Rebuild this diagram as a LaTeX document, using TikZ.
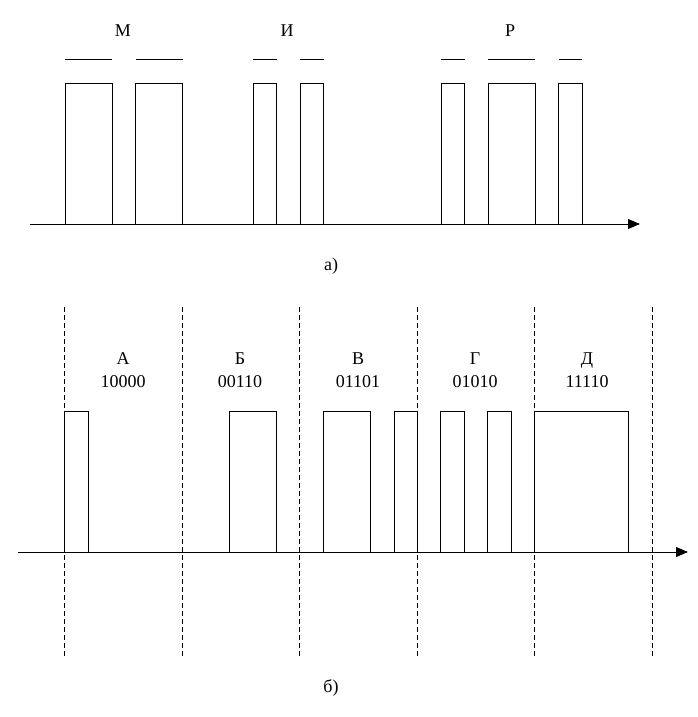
\documentclass[tikz,border=0pt]{standalone}
\usepackage{fontspec}
\setmainfont{Liberation Serif}
\usetikzlibrary{positioning,arrows.meta}
\tikzset{
signal/.style={
    x=1pt,
    y=-1pt,
    line width=1pt,
    font=\fontsize{18}{20}\selectfont
},
pulse/.style={
    draw,
    anchor=south west,
    inner sep=0pt,
    outer sep=0pt,
    minimum height=141pt,
    minimum width=23.5pt
},
longpulse/.style={
    pulse,
    minimum width=47pt
},
widepulse/.style={
    pulse,
    minimum width=94pt
},
axis/.style={
    -{Triangle[length=12pt,width=10pt]}
},
slot/.style={
    dash pattern=on 5pt off 3pt
},
caption/.style={
    inner sep=0pt,
    text height=12.5pt,
    text depth=0pt
}}

\begin{document}
\begin{tikzpicture}[signal]
\useasboundingbox (0,0) rectangle (698,717);

% a) Morse
\coordinate (ta0) at (30,224);
\coordinate (ta1) at (640,224);

\node    (m1)  [longpulse]  at (65,224)    {};
\node    (m2)  [longpulse]  at (135.5,224) {};
\node    (i1)  [pulse]      at (253,224)   {};
\node    (i2)  [pulse]      at (300,224)   {};
\node    (r1)  [pulse]      at (441,224)   {};
\node    (r2)  [longpulse]  at (488,224)   {};
\node    (r3)  [pulse]      at (558.5,224) {};

\node    (lm)  [caption]  at (123,30)  {М};
\node    (li)  [caption]  at (287,30)  {И};
\node    (lr)  [caption]  at (510,30)  {Р};
\node    (capa) [caption] at (331,264) {а)};

\draw    ([yshift=23pt]m1.north west) -- ([yshift=23pt]m1.north east);
\draw    ([yshift=23pt]m2.north west) -- ([yshift=23pt]m2.north east);
\draw    ([yshift=23pt]i1.north west) -- ([yshift=23pt]i1.north east);
\draw    ([yshift=23pt]i2.north west) -- ([yshift=23pt]i2.north east);
\draw    ([yshift=23pt]r1.north west) -- ([yshift=23pt]r1.north east);
\draw    ([yshift=23pt]r2.north west) -- ([yshift=23pt]r2.north east);
\draw    ([yshift=23pt]r3.north west) -- ([yshift=23pt]r3.north east);

\draw[axis]    (ta0) -- (ta1);

% b) five-unit code
\coordinate (tb0) at (18,552);
\coordinate (tb1) at (688,552);

\coordinate (s0t) at (64.5,307);  \coordinate (s0b) at (64.5,657);
\coordinate (s1t) at (182,307);   \coordinate (s1b) at (182,657);
\coordinate (s2t) at (299.5,307); \coordinate (s2b) at (299.5,657);
\coordinate (s3t) at (417,307);   \coordinate (s3b) at (417,657);
\coordinate (s4t) at (534.5,307); \coordinate (s4b) at (534.5,657);
\coordinate (s5t) at (652,307);   \coordinate (s5b) at (652,657);

\node    (a1)  [pulse]      at (64.5,552)  {};
\node    (b1)  [longpulse]  at (229.5,552) {};
\node    (v1)  [longpulse]  at (323,552)   {};
\node    (v2)  [pulse]      at (394,552)   {};
\node    (g1)  [pulse]      at (440.5,552) {};
\node    (g2)  [pulse]      at (487.5,552) {};
\node    (d1)  [widepulse]  at (534.5,552) {};

\node    (la)  [caption]  at (123,358)   {А};
\node    (lb)  [caption]  at (240,358)   {Б};
\node    (lv)  [caption]  at (358,358)   {В};
\node    (lg)  [caption]  at (475,358)   {Г};
\node    (ld)  [caption]  at (587,358)   {Д};
\node    (ca)  [caption, below=9.5pt of la]  {10000};
\node    (cb)  [caption, below=9.5pt of lb]  {00110};
\node    (cv)  [caption, below=9.5pt of lv]  {01101};
\node    (cg)  [caption, below=9.5pt of lg]  {01010};
\node    (cd)  [caption, below=9.5pt of ld]  {11110};
\node    (capb) [caption] at (331,686) {б)};

\draw[slot]    (s0t) -- (s0b);
\draw[slot]    (s1t) -- (s1b);
\draw[slot]    (s2t) -- (s2b);
\draw[slot]    (s3t) -- (s3b);
\draw[slot]    (s4t) -- (s4b);
\draw[slot]    (s5t) -- (s5b);

\draw[axis]    (tb0) -- (tb1);
\end{tikzpicture}
\end{document}
